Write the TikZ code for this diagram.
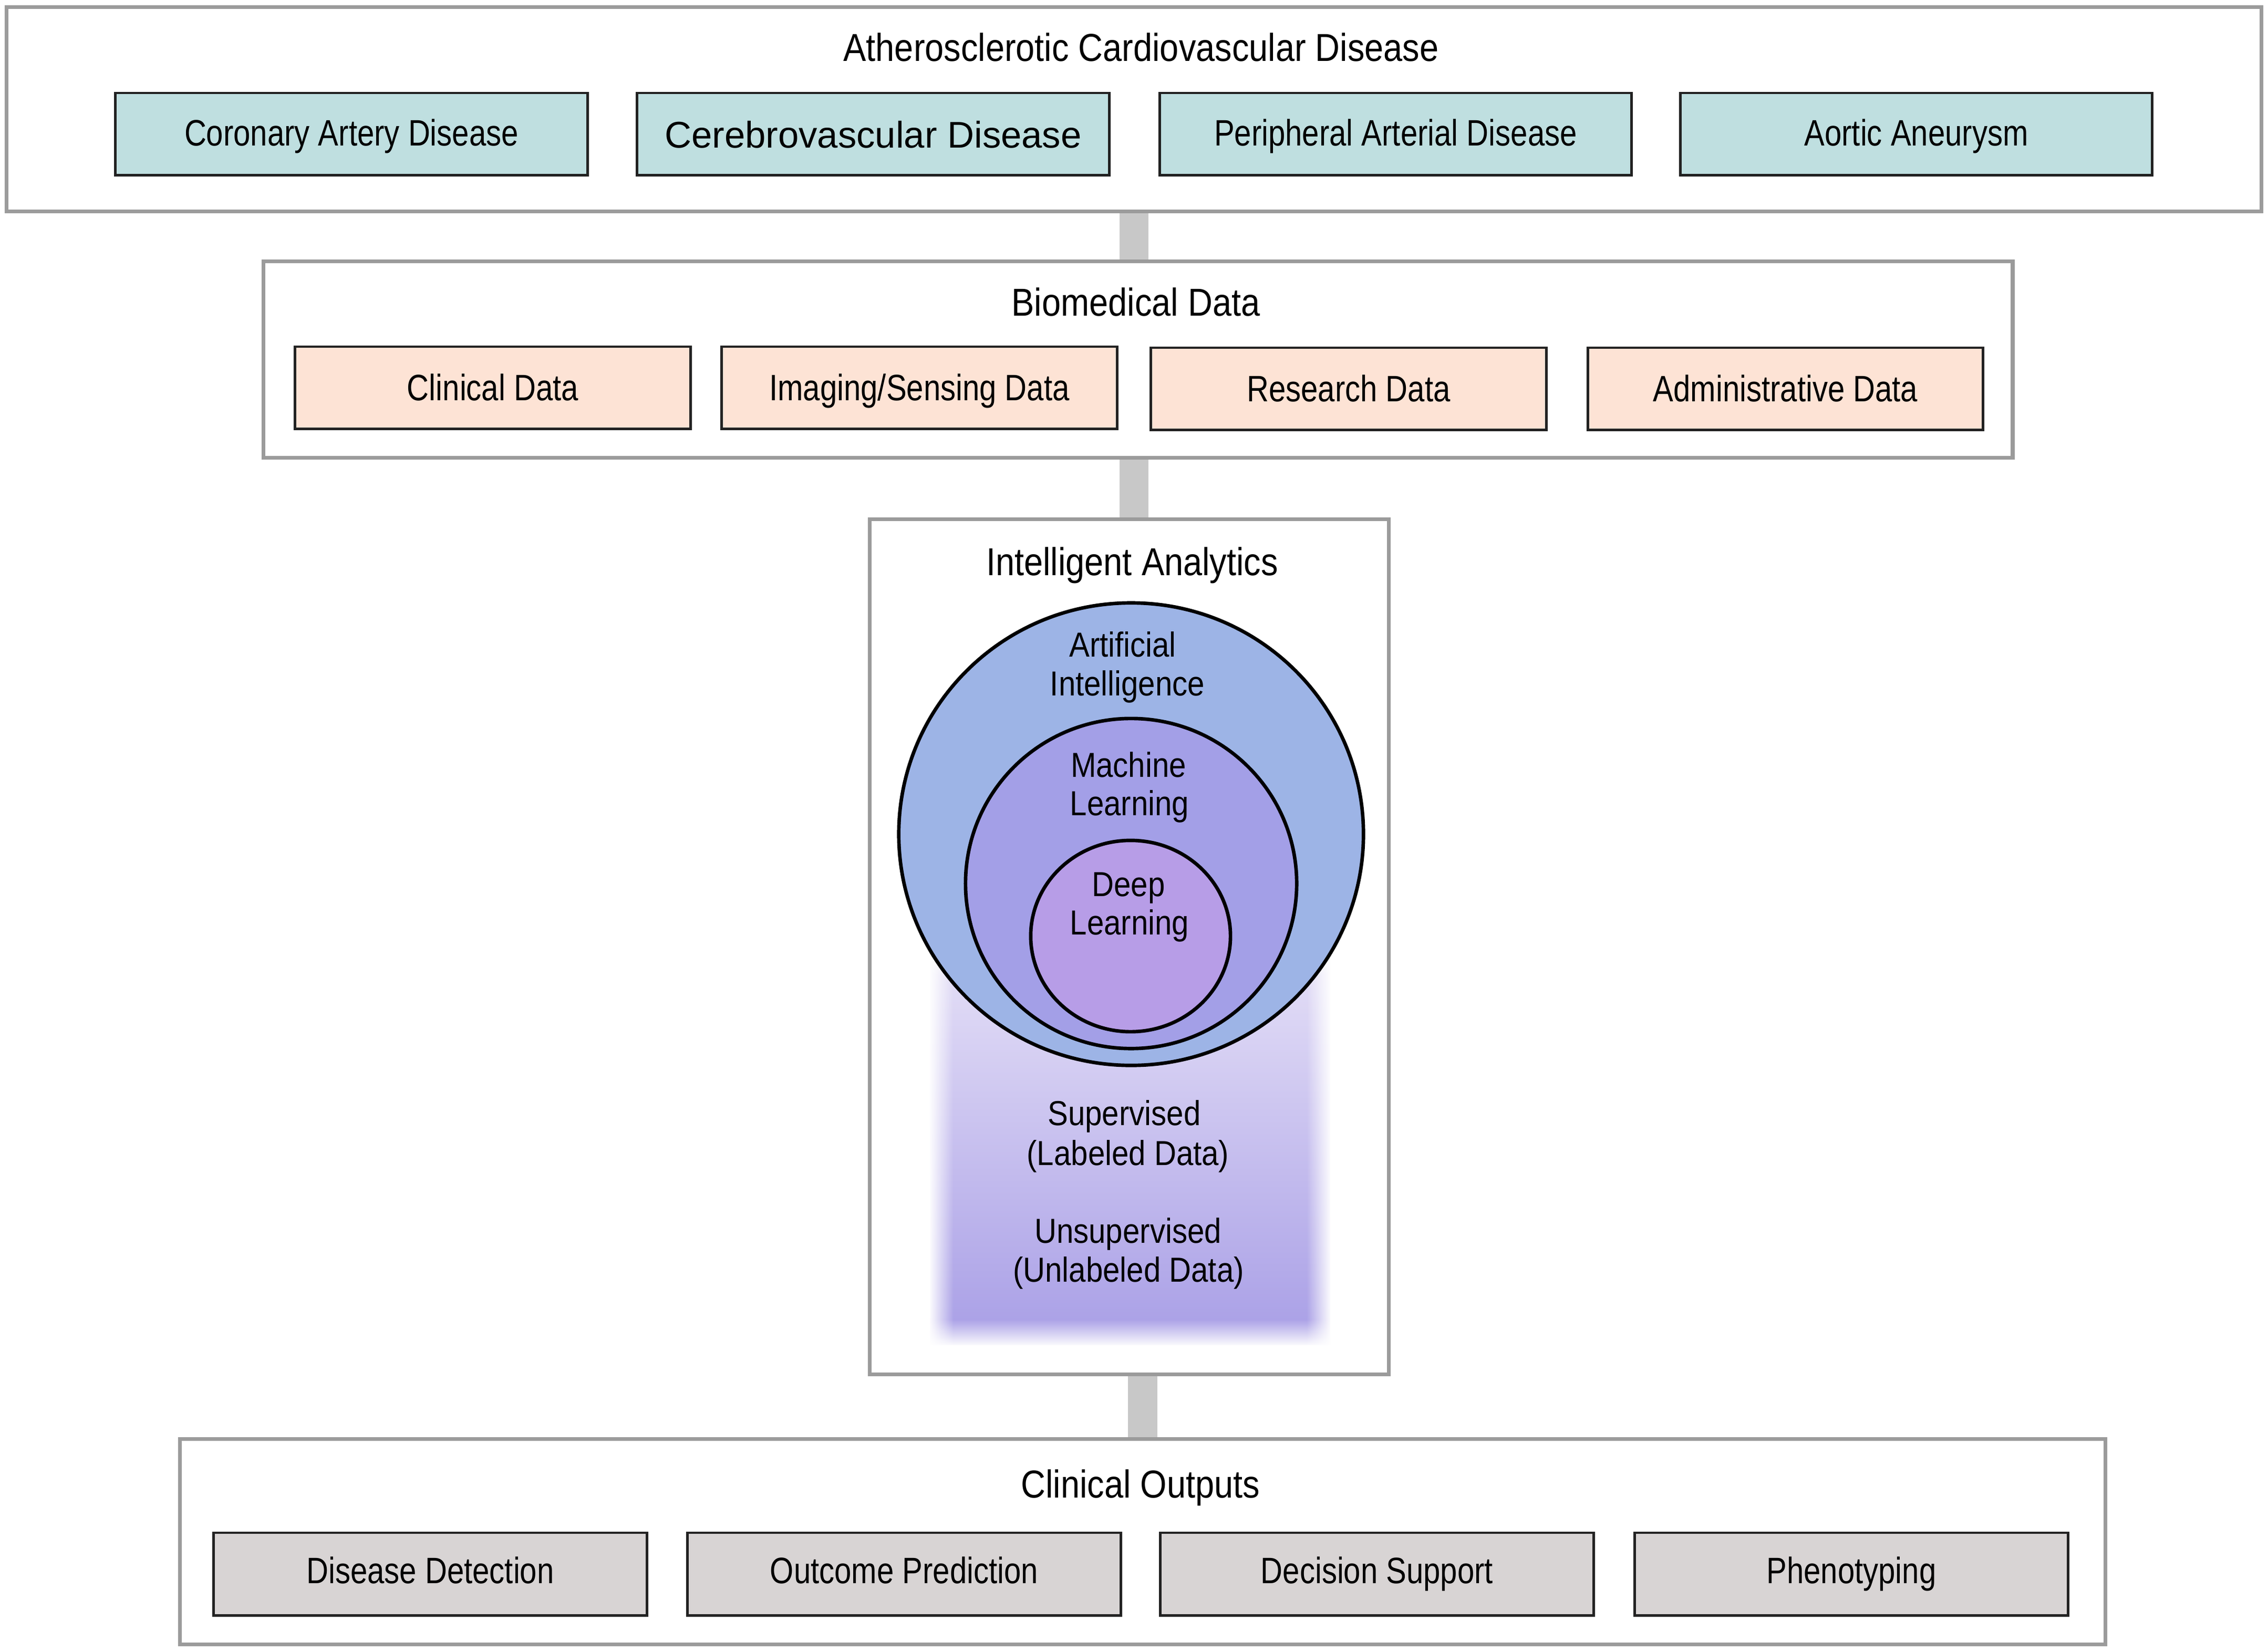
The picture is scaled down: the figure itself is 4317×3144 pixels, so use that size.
\documentclass[tikz,border=0pt]{standalone}
\usepackage{fontspec}
\setmainfont{Liberation Sans}
\newfontfamily\nf[FakeStretch=0.83]{Liberation Sans}
\newfontfamily\tf[FakeStretch=0.875]{Liberation Sans}
\newfontfamily\cf[FakeStretch=0.88]{Liberation Sans}
\usetikzlibrary{fadings,shapes.geometric}
\definecolor{frameg}{HTML}{9B9B9B}
\definecolor{conng}{HTML}{C8C8C8}
\definecolor{tealc}{HTML}{BFDFE0}
\definecolor{peachc}{HTML}{FDE3D5}
\definecolor{greyc}{HTML}{D8D4D4}
\definecolor{ringA}{HTML}{9DB4E6}
\definecolor{ringB}{HTML}{A39FE7}
\definecolor{ringC}{HTML}{B79DE7}
\definecolor{gtop}{HTML}{E6E1F7}
\definecolor{gmid}{HTML}{C6BAEE}
\definecolor{gbot}{HTML}{A89EE6}
\definecolor{edgec}{HTML}{222222}
\tikzfading[name=opqL, left color=transparent!0, right color=transparent!100]
\tikzfading[name=opqR, left color=transparent!100, right color=transparent!0]
\tikzfading[name=opqB, top color=transparent!100, bottom color=transparent!0]
\tikzfading[name=opqT, top color=transparent!0, bottom color=transparent!100]
\pgfdeclarelayer{bg}
\pgfsetlayers{bg,main}
\tikzset{
  frame/.style={draw=frameg, line width=2pt, fill=white, inner sep=0pt},
  conn/.style={draw=conng, line width=15.9pt},
  cell/.style={draw=edgec, line width=1.4pt, inner sep=0pt, text depth=0pt,
    font=\nf\fontsize{19.9}{24}\selectfont},
  tealbox/.style={cell, fill=tealc, text height=0.44cm, minimum width=8.98cm, minimum height=1.56cm},
  peachbox/.style={cell, fill=peachc, text height=0.48cm, minimum width=7.52cm, minimum height=1.56cm},
  greybox/.style={cell, fill=greyc, text height=0.36cm, minimum width=8.25cm, minimum height=1.57cm},
  ttl/.style={anchor=base, inner sep=0pt, font=\tf\fontsize{21.1}{25}\selectfont},
  ring/.style={ellipse, draw=black, line width=1.9pt, inner sep=0pt},
  clab/.style={anchor=base, inner sep=0pt, font=\cf\fontsize{18.8}{21}\selectfont}
}
\begin{document}
\begin{tikzpicture}[x=0.01cm, y=-0.01cm]
\useasboundingbox (0,0) rectangle (4317,3144);
% containers
\node[frame, minimum width=42.89cm, minimum height=3.88cm] (top) at (2158.5,208) {};
\node[frame, minimum width=33.28cm, minimum height=3.73cm] (bio) at (2166,684.5) {};
\node[frame, minimum width=9.87cm, minimum height=16.27cm] (ia) at (2149.5,1802.5) {};
\node[frame, minimum width=36.62cm, minimum height=3.90cm] (out) at (2175,2935) {};
% connectors
\begin{pgfonlayer}{bg}
\draw[conn] (top.south) -- (top.south |- bio.north);
\draw[conn] (bio.south -| top.south) -- (ia.north -| top.south);
\draw[conn] (ia.south -| out.north) -- (out.north);
\end{pgfonlayer}
% titles
\node[ttl] (t1) at (2172,116) {Atherosclerotic Cardiovascular Disease};
\node[ttl] (t2) at (2162,601) {Biomedical Data};
\node[ttl] (t3) at (2155,1095) {Intelligent Analytics};
\node[ttl] (t4) at (2171,2851) {Clinical Outputs};
% disease boxes
\node[tealbox] (cad) at (669,255) {Coronary Artery Disease};
\node[tealbox, text height=0.52cm, font=\rmfamily\fontsize{20.1}{24}\selectfont] (cvd) at (1662,255) {Cerebrovascular Disease};
\node[tealbox] (pad) at (2656.5,255) {Peripheral Arterial Disease};
\node[tealbox] (aa) at (3647.5,255) {Aortic Aneurysm};
% data boxes
\node[peachbox] (cd) at (938,738) {Clinical Data};
\node[peachbox] (isd) at (1750,738) {Imaging/Sensing Data};
\node[peachbox] (rd) at (2567,740) {Research Data};
\node[peachbox] (ad) at (3398.5,740) {Administrative Data};
% output boxes
\node[greybox] (dd) at (819,2996.5) {Disease Detection};
\node[greybox] (op) at (1721,2996.5) {Outcome Prediction};
\node[greybox] (ds) at (2621,2996.5) {Decision Support};
\node[greybox] (ph) at (3524,2996.5) {Phenotyping};
% soft gradient panel
\shade[top color=gtop, middle color=gmid, bottom color=gbot] (1770,1800) rectangle (2532,2560);
\fill[white, path fading=opqL] (1768,1790) rectangle (1815,2563);
\fill[white, path fading=opqR] (2487,1790) rectangle (2534,2563);
\fill[white, path fading=opqB] (1768,2512) rectangle (2534,2563);
\fill[white, path fading=opqT] (1768,1798) rectangle (2534,1860);
% nested circles
\node[ring, fill=ringA, minimum width=8.84cm, minimum height=8.80cm] (ai) at (2153,1588) {};
\node[ring, fill=ringB, minimum width=6.30cm, minimum height=6.28cm] (ml) at (2153,1682) {};
\node[ring, fill=ringC, minimum width=3.80cm, minimum height=3.64cm] (dl) at (2152,1782) {};
% circle labels
\node[clab] (l1) at (2137,1250) {Artificial};
\node[clab] (l2) at (2146,1324) {Intelligence};
\node[clab] (l3) at (2148,1479) {Machine};
\node[clab] (l4) at (2150,1552) {Learning};
\node[clab] (l5) at (2148,1706) {Deep};
\node[clab] (l6) at (2150,1779) {Learning};
\node[clab] (l7) at (2140,2142) {Supervised};
\node[clab] (l8) at (2147,2218) {(Labeled Data)};
\node[clab] (l9) at (2147,2366) {Unsupervised};
\node[clab] (l10) at (2148,2440) {(Unlabeled Data)};
\end{tikzpicture}
\end{document}
